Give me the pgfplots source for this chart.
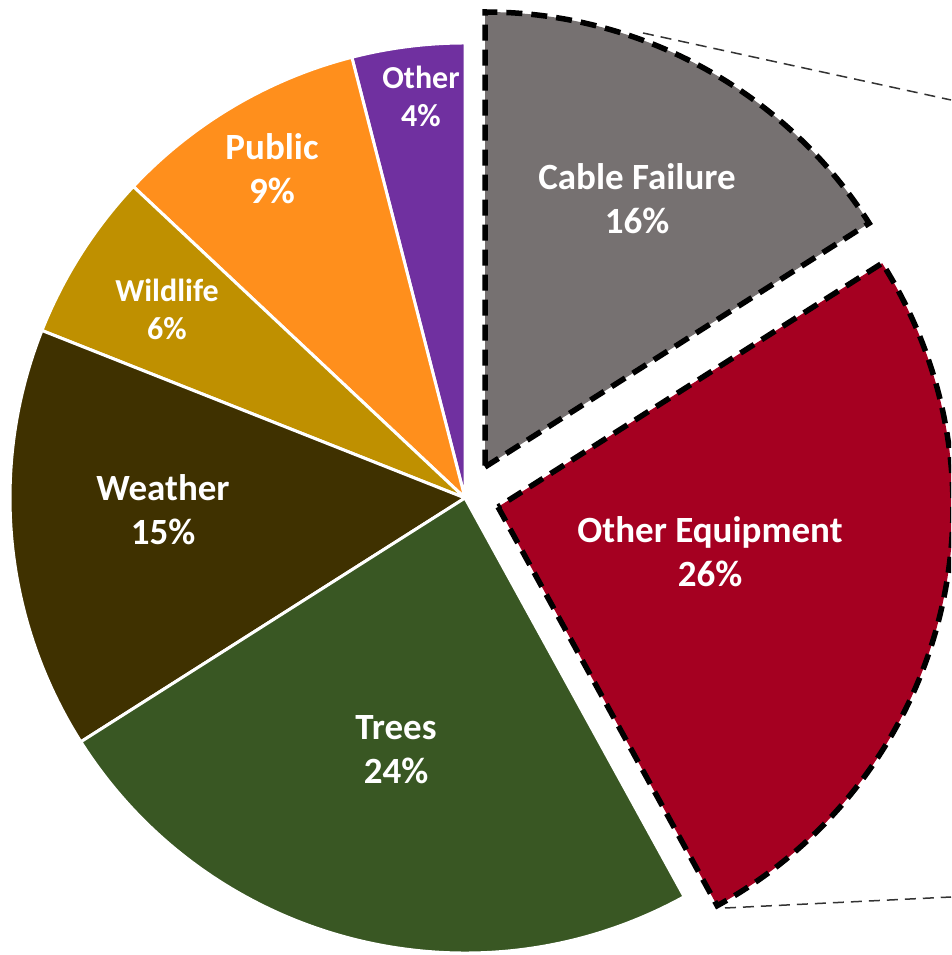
\documentclass[border=0pt]{standalone}
\usepackage{pgfplots}
\pgfplotsset{compat=1.18}
\usepackage{fontspec}
\setmainfont{Carlito}
\definecolor{cOther}{RGB}{112,48,160}
\definecolor{cPublic}{RGB}{255,143,28}
\definecolor{cWildlife}{RGB}{191,144,0}
\definecolor{cWeather}{RGB}{63,49,0}
\definecolor{cTrees}{RGB}{57,87,35}
\definecolor{cOtherEq}{RGB}{165,0,33}
\definecolor{cCable}{RGB}{118,113,113}
% accumulated angle, pie starts at 12 o'clock, counter-clockwise
\gdef\angacc{90}
% #1 percent, #2 colour, #3 apex x, #4 apex y, #5 style
\newcommand\pieslice[5]{%
  \pgfmathsetmacro\sa{\angacc}%
  \pgfmathsetmacro\ea{\angacc+3.6*#1}%
  \edef\temp{\noexpand\path[fill=#2,#5] (axis cs:#3,#4) -- ++(\sa:455pt) arc[start angle=\sa, end angle=\ea, radius=455pt] -- cycle;}%
  \temp
  \xdef\angacc{\ea}%
}
\tikzset{
  mainslice/.style={draw=white, line width=3pt, line join=round},
  expslice/.style={draw=black, line width=5.5pt, dash pattern=on 16pt off 9pt, line join=miter},
  lab/.style={text=white, align=center, font=\bfseries\fontsize{37}{44}\selectfont},
  labs/.style={text=white, align=center, font=\bfseries\fontsize{32}{38}\selectfont},
}
\begin{document}
\begin{tikzpicture}
\begin{axis}[width=951pt, height=955pt, scale only axis,
  xmin=0, xmax=951, ymin=0, ymax=955, hide axis, clip=true]
% slices: value (percent)
\pieslice{4}{cOther}{465}{457}{mainslice}
\pieslice{9}{cPublic}{465}{457}{mainslice}
\pieslice{6}{cWildlife}{465}{457}{mainslice}
\pieslice{15}{cWeather}{465}{457}{mainslice}
\pieslice{24}{cTrees}{465}{457}{mainslice}
\pieslice{26}{cOtherEq}{498}{448}{expslice}
\pieslice{16}{cCable}{485}{488}{expslice}
% connector lines to the (cropped) secondary chart
\draw[black!80, line width=1.5pt, dash pattern=on 11pt off 7pt] (axis cs:643,922) -- (axis cs:951,855);
\draw[black!80, line width=1.5pt, dash pattern=on 11pt off 7pt] (axis cs:725,47) -- (axis cs:951,58);
% labels
\node[lab] at (axis cs:637,756) {Cable Failure\\16\%};
\node[lab] at (axis cs:710,403) {Other Equipment\\26\%};
\node[lab] at (axis cs:396,205) {Trees\\24\%};
\node[lab] at (axis cs:163,445) {Weather\\15\%};
\node[labs] at (axis cs:167,646) {Wildlife\\6\%};
\node[lab] at (axis cs:272,786) {Public\\9\%};
\node[labs] at (axis cs:421,859) {Other\\4\%};
\end{axis}
\pgfresetboundingbox
\path[use as bounding box] (current axis.south west) rectangle (current axis.north east);
\end{tikzpicture}
\end{document}
